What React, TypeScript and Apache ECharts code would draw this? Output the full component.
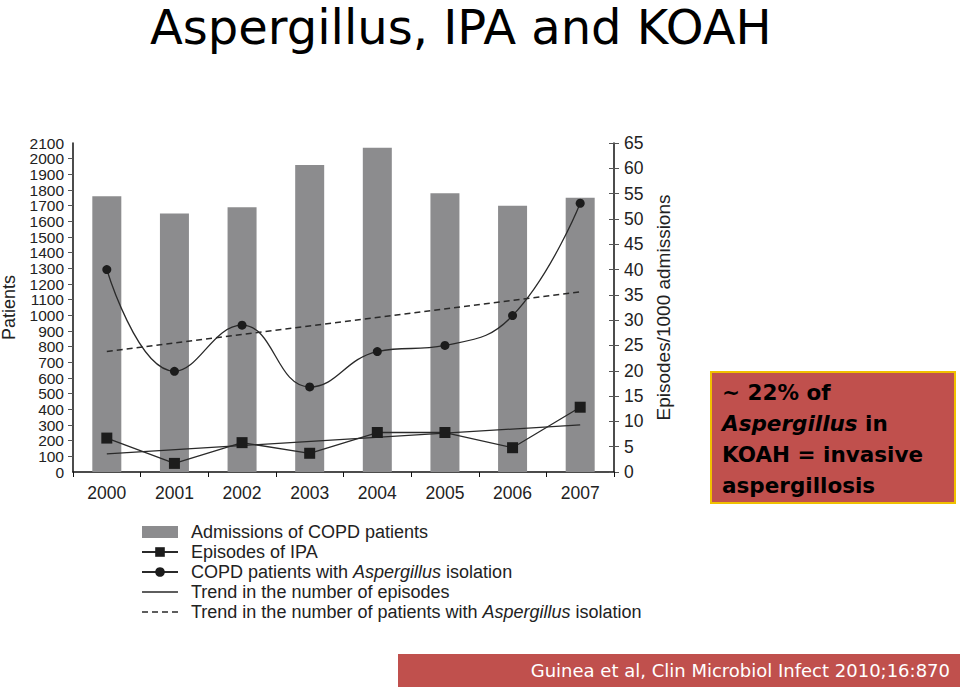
import React, { useEffect, useRef } from "react";
import * as echarts from "echarts";

const years = ["2000", "2001", "2002", "2003", "2004", "2005", "2006", "2007"];
const admissions = [1760, 1650, 1690, 1960, 2070, 1780, 1700, 1750];
const episodesIPA = [6.7, 1.7, 5.8, 3.7, 7.8, 7.8, 4.8, 12.8];
const aspergillusPatients = [40.0, 19.9, 29.0, 16.8, 23.8, 25.0, 30.9, 53.1];
const trendEpisodes = [3.6, null, null, null, null, null, null, 9.3];
const trendAspergillus = [23.8, null, null, null, null, null, null, 35.6];

const NAME_BAR = "Admissions of COPD patients";
const NAME_IPA = "Episodes of IPA";
const NAME_ASP = "COPD patients with Aspergillus isolation";
const NAME_TR1 = "Trend in the number of episodes";
const NAME_TR2 = "Trend in the number of patients with Aspergillus isolation";

const AXIS_FONT = "'Liberation Sans', Arial, sans-serif";
const SLIDE_FONT = "'DejaVu Sans', sans-serif";

const ICON_SOLID = "path://M0,0l0.01,0l0,0.01z M0,12l0.01,0l0,0.01z M0,5.3h36v1.4h-36z";
const ICON_DASH =
  "path://M0,0l0.01,0l0,0.01z M0,12l0.01,0l0,0.01z M0,5.3h6v1.4h-6z M10,5.3h6v1.4h-6z M20,5.3h6v1.4h-6z M30,5.3h6v1.4h-6z";

export default function App() {
  const ref = useRef<HTMLDivElement>(null);
  useEffect(() => {
    if (!ref.current) return;
    const chart = echarts.init(ref.current, null, { renderer: "svg" });
    const leftLabel = {
      color: "#222",
      fontSize: 15.5,
      fontFamily: AXIS_FONT,
      lineHeight: 14,
      margin: 9,
      formatter: (v: any) => String(v),
    };
    chart.setOption({
      animation: false,
      backgroundColor: "#ffffff",
      grid: { left: 73, right: 346, top: 143, bottom: 215, outerBoundsMode: "none", containLabel: false },
      xAxis: {
        type: "category",
        data: years,
        axisLine: { lineStyle: { color: "#111", width: 1.5 } },
        axisTick: { show: true, length: 5, lineStyle: { color: "#111" } },
        axisLabel: { color: "#222", fontSize: 17.5, fontFamily: AXIS_FONT, margin: 12 },
      },
      yAxis: [
        {
          type: "value",
          min: 0,
          max: 2100,
          interval: 100,
          name: "Patients",
          nameLocation: "middle",
          nameRotate: 90,
          nameGap: 55,
          nameTextStyle: { color: "#222", fontSize: 18, fontFamily: AXIS_FONT },
          axisLine: { show: true, lineStyle: { color: "#111", width: 1.5 } },
          axisTick: { show: true, length: 5, lineStyle: { color: "#555" } },
          axisLabel: { ...leftLabel, showMinLabel: false, showMaxLabel: false },
          splitLine: { show: false },
        },
        {
          type: "value",
          min: 0,
          max: 65,
          interval: 5,
          position: "right",
          name: "Episodes/1000 admissions",
          nameLocation: "middle",
          nameRotate: 90,
          nameGap: 28,
          nameTextStyle: { color: "#222", fontSize: 19, fontFamily: AXIS_FONT },
          axisLine: { show: true, lineStyle: { color: "#111", width: 1.5 } },
          axisTick: { show: true, length: 5, lineStyle: { color: "#555" } },
          axisLabel: {
            color: "#222",
            fontSize: 17.5,
            fontFamily: AXIS_FONT,
            margin: 10,
            showMinLabel: true,
            showMaxLabel: true,
            formatter: (v: any) => String(v),
          },
          splitLine: { show: false },
        },
        {
          type: "value",
          min: 0,
          max: 2100,
          interval: 2100,
          position: "left",
          axisLine: { show: false },
          axisTick: { show: false },
          axisLabel: { ...leftLabel, showMinLabel: true, showMaxLabel: true },
          splitLine: { show: false },
        },
        {
          type: "value",
          min: 0,
          max: 65,
          interval: 5,
          position: "right",
          axisLine: { show: false },
          axisTick: { show: true, inside: true, length: 5, lineStyle: { color: "#555" } },
          axisLabel: { show: false },
          splitLine: { show: false },
        },
      ],
      legend: {
        orient: "vertical",
        left: 136,
        top: 518,
        itemWidth: 36,
        itemHeight: 12,
        itemGap: 2,
        data: [
          { name: NAME_BAR, icon: "rect" },
          NAME_IPA,
          NAME_ASP,
          { name: NAME_TR1, icon: ICON_SOLID },
          { name: NAME_TR2, icon: ICON_DASH },
        ],
        formatter: (name: string) => {
          if (name.indexOf("Aspergillus") >= 0) {
            const parts = name.split("Aspergillus");
            return `{n|${parts[0]}}{i|Aspergillus}{n|${parts[1]}}`;
          }
          return `{n|${name}}`;
        },
        textStyle: {
          color: "#222",
          fontSize: 18,
          fontFamily: AXIS_FONT,
          padding: [0, 0, 0, 8],
          rich: {
            n: { color: "#222", fontSize: 18, fontFamily: AXIS_FONT, lineHeight: 18 },
            i: { color: "#222", fontSize: 18, fontFamily: AXIS_FONT, fontStyle: "italic", lineHeight: 18 },
          },
        },
      },
      series: [
        {
          name: NAME_BAR,
          type: "bar",
          yAxisIndex: 0,
          data: admissions,
          barWidth: 29,
          itemStyle: { color: "#8c8c8e" },
          z: 1,
        },
        {
          name: NAME_IPA,
          type: "line",
          yAxisIndex: 1,
          data: episodesIPA,
          symbol: "rect",
          symbolSize: 11,
          itemStyle: { color: "#1c1c1c" },
          lineStyle: { color: "#2a2a2a", width: 1.3 },
          z: 4,
        },
        {
          name: NAME_ASP,
          type: "line",
          yAxisIndex: 1,
          data: aspergillusPatients,
          smooth: 0.45,
          symbol: "circle",
          symbolSize: 9,
          itemStyle: { color: "#1c1c1c" },
          lineStyle: { color: "#2a2a2a", width: 1.3 },
          z: 4,
        },
        {
          name: NAME_TR1,
          type: "line",
          yAxisIndex: 1,
          data: trendEpisodes,
          connectNulls: true,
          symbol: "none",
          itemStyle: { color: "#2a2a2a" },
          lineStyle: { color: "#2a2a2a", width: 1.3 },
          z: 3,
        },
        {
          name: NAME_TR2,
          type: "line",
          yAxisIndex: 1,
          data: trendAspergillus,
          connectNulls: true,
          symbol: "none",
          itemStyle: { color: "#2a2a2a" },
          lineStyle: { color: "#2a2a2a", width: 1.4, type: [6, 4] },
          z: 3,
        },
      ],
      graphic: [
        {
          type: "text",
          x: 150,
          y: 27,
          style: {
            text: "Aspergillus, IPA and KOAH",
            fontSize: 48,
            fontFamily: SLIDE_FONT,
            fill: "#000",
            verticalAlign: "middle",
          },
        },
        {
          type: "rect",
          shape: { x: 711, y: 372, width: 244, height: 131 },
          style: { fill: "#c0504d", stroke: "#f0c000", lineWidth: 2 },
        },
        {
          type: "text",
          x: 722,
          y: 377,
          style: {
            text: "{b|~ 22% of}\n{i|Aspergillus}{b| in}\n{b|KOAH = invasive}\n{b|aspergillosis}",
            fill: "#000",
            rich: {
              b: { fontSize: 21.5, fontWeight: "bold", fontFamily: SLIDE_FONT, fill: "#000", lineHeight: 31 },
              i: { fontSize: 21.5, fontWeight: "bold", fontFamily: SLIDE_FONT, fill: "#000", lineHeight: 31, fontStyle: "italic" },
            },
          },
        },
        {
          type: "rect",
          shape: { x: 398, y: 654, width: 562, height: 33 },
          style: { fill: "#c0504d" },
        },
        {
          type: "text",
          x: 950,
          y: 670,
          style: {
            text: "Guinea et al, Clin Microbiol Infect 2010;16:870",
            fontSize: 18,
            fontFamily: SLIDE_FONT,
            fill: "#ffffff",
            align: "right",
            verticalAlign: "middle",
          },
        },
      ],
    });
    return () => chart.dispose();
  }, []);
  return (
    <div
      ref={ref}
      style={{ position: "fixed", left: 0, top: 0, width: 960, height: 687 }}
    />
  );
}
